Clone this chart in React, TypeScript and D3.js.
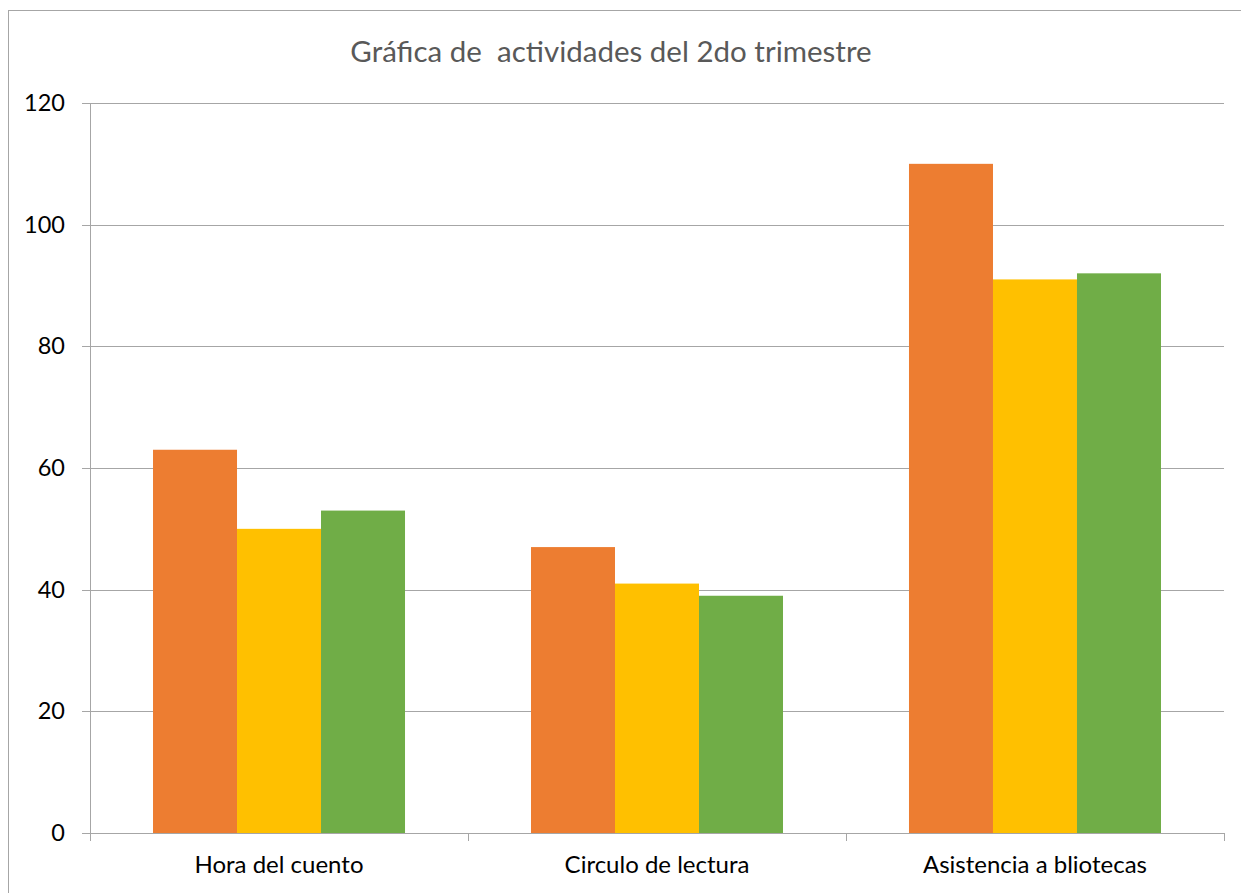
import React, { useEffect, useRef } from "react";
import * as d3 from "d3";

const categories = ["Hora del cuento", "Circulo de lectura", "Asistencia a bliotecas"];
const seriesNames = ["Serie 1", "Serie 2", "Serie 3"];
const serie1 = [63, 47, 110];
const serie2 = [50, 41, 91];
const serie3 = [53, 39, 92];
const colors = ["#ED7D31", "#FFC000", "#70AD47"];
const yTicks = [0, 20, 40, 60, 80, 100, 120];
const title = "Gráfica de  actividades del 2do trimestre";

export default function App() {
  const ref = useRef<SVGSVGElement>(null);
  useEffect(() => {
    const svg = d3.select(ref.current);
    svg.selectAll("*").remove();
    const W = 1241, H = 893;
    const left = 90, right = 1224, top = 103, bottom = 833;
    const font = "Lato, 'Open Sans', sans-serif";

    svg.append("rect").attr("x", 8.5).attr("y", 10.5).attr("width", W - 8).attr("height", H)
      .attr("fill", "#fff").attr("stroke", "#A6A6A6").attr("stroke-width", 1);

    const x0 = d3.scaleBand().domain(categories).range([left, right]).paddingInner(0.3333).paddingOuter(0.1667);
    const x1 = d3.scaleBand().domain(seriesNames).range([0, x0.bandwidth()]);
    const y = d3.scaleLinear().domain([0, 120]).range([bottom, top]);

    // gridlines
    svg.append("g").selectAll("line").data(yTicks).join("line")
      .attr("x1", left - 8).attr("x2", right)
      .attr("y1", d => Math.round(y(d)) + 0.5).attr("y2", d => Math.round(y(d)) + 0.5)
      .attr("stroke", "#A6A6A6").attr("stroke-width", 1);

    const series = [serie1, serie2, serie3];
    series.forEach((vals, si) => {
      svg.append("g").selectAll("rect").data(vals).join("rect")
        .attr("x", (d, i) => x0(categories[i])! + x1(seriesNames[si])!)
        .attr("width", x1.bandwidth())
        .attr("y", d => y(d))
        .attr("height", d => bottom - y(d))
        .attr("fill", colors[si]);
    });

    // y axis line
    svg.append("line").attr("x1", left + 0.5).attr("x2", left + 0.5).attr("y1", top).attr("y2", bottom + 8)
      .attr("stroke", "#A6A6A6");
    // x tick marks at category boundaries
    const bounds = [left, left + (right - left) / 3, left + 2 * (right - left) / 3, right];
    svg.append("g").selectAll("line").data(bounds).join("line")
      .attr("x1", d => Math.round(d) + 0.5).attr("x2", d => Math.round(d) + 0.5)
      .attr("y1", bottom).attr("y2", bottom + 8)
      .attr("stroke", "#A6A6A6");

    svg.append("g").selectAll("text").data(yTicks).join("text")
      .attr("x", 65).attr("y", d => y(d) + 8)
      .attr("text-anchor", "end").attr("font-family", font).attr("font-size", 23.5).attr("fill", "#000")
      .text(d => d);

    svg.append("g").selectAll("text").data(categories).join("text")
      .attr("x", d => x0(d)! + x0.bandwidth() / 2).attr("y", 873)
      .attr("text-anchor", "middle").attr("font-family", font).attr("font-size", 24).attr("fill", "#000")
      .text(d => d);

    svg.append("text").attr("x", 611).attr("y", 62).attr("text-anchor", "middle")
      .attr("font-family", font).attr("font-size", 29.5).attr("fill", "#595959").style("white-space", "pre")
      .text(title);
  }, []);
  return (
    <svg ref={ref} width={1241} height={893}
      style={{ position: "absolute", left: 0, top: 0, display: "block", background: "#fff" }} />
  );
}
